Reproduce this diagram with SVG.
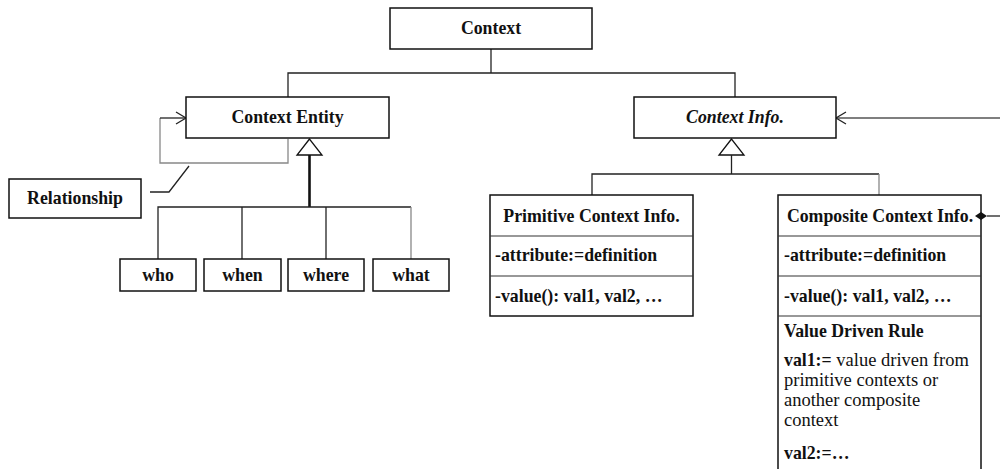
<svg xmlns="http://www.w3.org/2000/svg" width="1000" height="469" viewBox="0 0 1000 469">
<style>
.box{fill:#fff;stroke:#111;stroke-width:1.5}
.div{stroke:#333;stroke-width:1.2;fill:none}
.ln{stroke:#222;stroke-width:1.3;fill:none}
.gl{stroke:#888;stroke-width:1.3;fill:none}
.t{font-family:"Liberation Serif","Times New Roman",serif;font-size:17.8px;font-weight:bold;fill:#111}
.c{text-anchor:middle}
.r{font-weight:normal;font-size:18.5px}
</style>
<rect width="1000" height="469" fill="#fff"/>
<g id="connectors">
<polyline class="ln" points="491,49 491,73"/>
<polyline class="ln" points="288,97 288,73 735,73 735,97"/>
<polygon points="309.5,139 297,155 322,155" fill="#fff" stroke="#111" stroke-width="1.3"/>
<line x1="309.5" y1="155" x2="309.5" y2="207" stroke="#111" stroke-width="2.6"/>
<polyline class="ln" points="158,259 158,207 411,207"/>
<line class="ln" x1="242" y1="207" x2="242" y2="259"/>
<line class="ln" x1="326" y1="207" x2="326" y2="259"/>
<line class="gl" x1="411" y1="207" x2="411" y2="259"/>
<polyline class="gl" points="288,139 288,163 160,163 160,118"/>
<polyline class="ln" points="160,118 186,118"/>
<polyline class="ln" points="176,112 186,118 176,124"/>
<polyline class="ln" points="150,192 169,192 189,166"/>
<polygon points="731.5,139 719,155 744,155" fill="#fff" stroke="#111" stroke-width="1.3"/>
<line class="ln" x1="731.5" y1="155" x2="731.5" y2="174"/>
<polyline class="ln" points="592,195 592,174 879,174"/>
<line class="gl" x1="879" y1="174" x2="879" y2="195"/>
<line x1="836" y1="118" x2="1000" y2="118" stroke="#555" stroke-width="1.5"/>
<polyline class="ln" points="846,112 836,118 846,124"/>
<line class="ln" x1="987" y1="216" x2="1000" y2="216"/>
</g>
<g id="context">
<rect class="box" x="390" y="8" width="202" height="41"/>
<text class="t c" x="491" y="34">Context</text>
</g>
<g id="context-entity">
<rect class="box" x="186" y="97" width="203" height="41"/>
<text class="t c" x="287.5" y="123">Context Entity</text>
</g>
<g id="context-info">
<rect class="box" x="634" y="97" width="202" height="41"/>
<text class="t c" x="735" y="123" font-style="italic">Context Info.</text>
</g>
<g id="relationship">
<rect class="box" x="9" y="179" width="132" height="39"/>
<text class="t c" x="75" y="204">Relationship</text>
</g>
<g id="who">
<rect class="box" x="120" y="259" width="76" height="32"/>
<text class="t c" x="158" y="281">who</text>
</g>
<g id="when">
<rect class="box" x="204" y="259" width="77" height="32"/>
<text class="t c" x="242.5" y="281">when</text>
</g>
<g id="where">
<rect class="box" x="288" y="259" width="76" height="32"/>
<text class="t c" x="326" y="281">where</text>
</g>
<g id="what">
<rect class="box" x="373" y="259" width="76" height="32"/>
<text class="t c" x="411" y="281">what</text>
</g>
<g id="primitive-context-info">
<rect class="box" x="490" y="195" width="203" height="121"/>
<line class="div" x1="490" y1="236" x2="693" y2="236"/>
<line class="div" x1="490" y1="276" x2="693" y2="276"/>
<text class="t c" x="591.5" y="222">Primitive Context Info.</text>
<text class="t" x="495" y="261">-attribute:=definition</text>
<text class="t" x="495" y="302">-value(): val1, val2, …</text>
</g>
<g id="composite-context-info">
<rect class="box" x="778" y="195" width="203" height="290"/>
<line class="div" x1="778" y1="236" x2="981" y2="236"/>
<line class="div" x1="778" y1="276" x2="981" y2="276"/>
<line class="div" x1="778" y1="316" x2="981" y2="316"/>
<text class="t c" x="880" y="222">Composite Context Info.</text>
<text class="t" x="784" y="261">-attribute:=definition</text>
<text class="t" x="784" y="302">-value(): val1, val2, …</text>
<text class="t" x="784" y="337">Value Driven Rule</text>
<text class="t" x="784" y="366">val1:=<tspan class="r"> value driven from</tspan></text>
<text class="t r" x="784" y="386">primitive contexts or</text>
<text class="t r" x="784" y="406">another composite</text>
<text class="t r" x="784" y="426">context</text>
<text class="t" x="784" y="459">val2:=…</text>
<polygon points="975,216 981,212 987,216 981,220" fill="#111"/>
</g>
</svg>
